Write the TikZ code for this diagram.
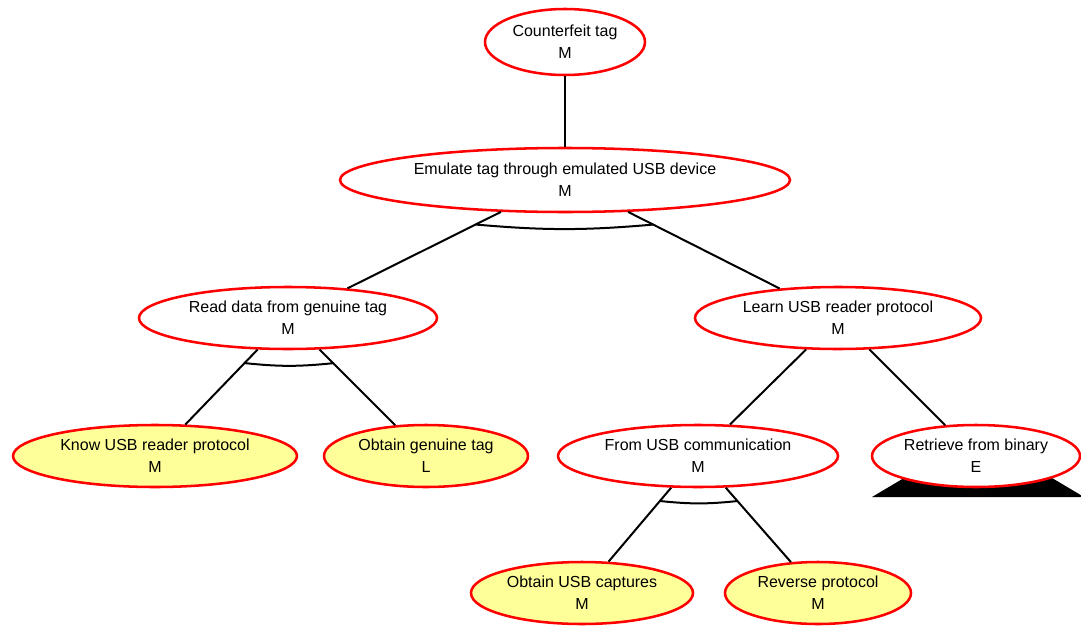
\documentclass[tikz,border=0pt]{standalone}
\usepackage{fontspec}
\setmainfont{Liberation Sans}
\usetikzlibrary{shapes.geometric}
\definecolor{leafyellow}{HTML}{FFFF99}
\definecolor{nodered}{HTML}{FF0000}
\begin{document}
\begin{tikzpicture}[x=0.75pt,y=-0.75pt,
  goal/.style={ellipse,draw=nodered,line width=1.9pt,fill=white,inner sep=0pt,
    align=center,font=\fontsize{12}{16.5}\selectfont},
  leaf/.style={goal,fill=leafyellow},
  conn/.style={line width=1.5pt,black},
  andarc/.style={line width=1.5pt,black}]
\useasboundingbox (0,0) rectangle (1081,628);
% black triangle behind "Retrieve from binary"
\fill[black] (978,434) -- (872,497) -- (1084,497) -- cycle;
% nodes
\node[goal,minimum width=120pt,minimum height=49.5pt] (top) at (565,42) {Counterfeit tag\\M};
\node[goal,minimum width=337.5pt,minimum height=48pt] (emu) at (565,180) {Emulate tag through emulated USB device\\M};
\node[goal,minimum width=223.5pt,minimum height=46.5pt] (read) at (288,318) {Read data from genuine tag\\M};
\node[goal,minimum width=214.5pt,minimum height=46.5pt] (learn) at (838,318) {Learn USB reader protocol\\M};
\node[leaf,minimum width=213pt,minimum height=46.5pt] (know) at (155,456) {Know USB reader protocol\\M};
\node[leaf,minimum width=153pt,minimum height=46.5pt] (gen) at (426,456) {Obtain genuine tag\\L};
\node[goal,minimum width=210pt,minimum height=46.5pt] (from) at (698,456) {From USB communication\\M};
\node[goal,minimum width=156pt,minimum height=46.5pt] (retr) at (976,456) {Retrieve from binary\\E};
\node[leaf,minimum width=166.5pt,minimum height=46.5pt] (cap) at (582,593) {Obtain USB captures\\M};
\node[leaf,minimum width=139.5pt,minimum height=46.5pt] (rev) at (818,593) {Reverse protocol\\M};
% connectors
\draw[conn] (top) -- (emu);
\draw[conn] (emu) -- (read) coordinate[pos=0.165] (e1);
\draw[conn] (emu) -- (learn) coordinate[pos=0.165] (e2);
\draw[conn] (read) -- (know) coordinate[pos=0.18] (r1);
\draw[conn] (read) -- (gen) coordinate[pos=0.18] (r2);
\draw[conn] (learn) -- (from);
\draw[conn] (learn) -- (retr);
\draw[conn] (from) -- (cap) coordinate[pos=0.18] (f1);
\draw[conn] (from) -- (rev) coordinate[pos=0.18] (f2);
% AND arcs
\draw[andarc] (e1) to[bend right=5] (e2);
\draw[andarc] (r1) to[bend right=6] (r2);
\draw[andarc] (f1) to[bend right=6] (f2);
\end{tikzpicture}
\end{document}
